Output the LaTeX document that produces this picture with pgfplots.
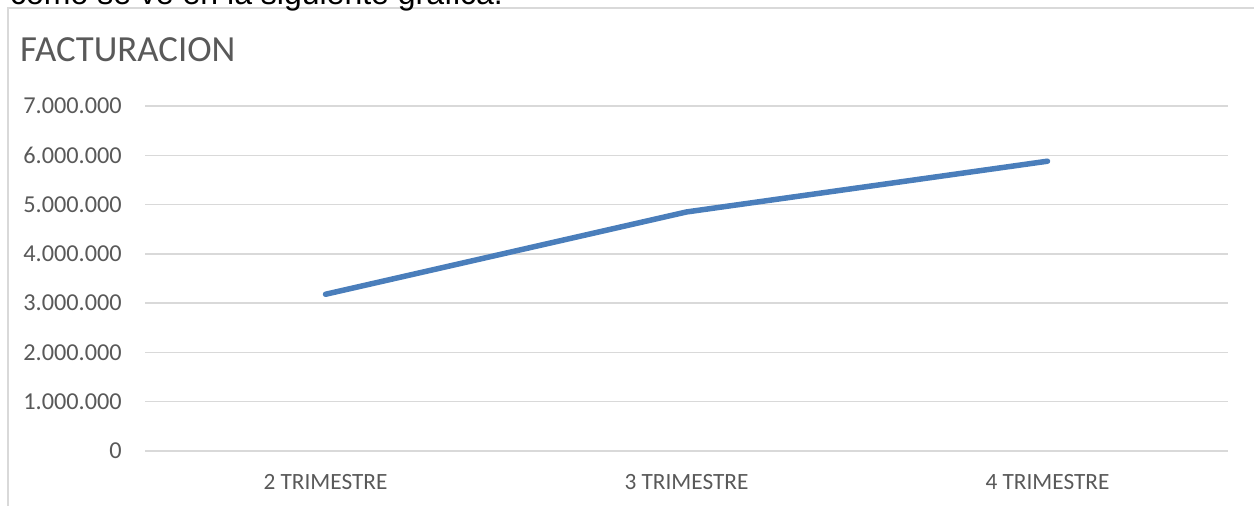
\documentclass[border=0pt]{standalone}
\usepackage{fontspec}
\setmainfont{Carlito}
\newfontfamily\arial{Liberation Sans}
\usepackage{pgfplots}
\pgfplotsset{compat=1.18}
\definecolor{txt}{HTML}{595959}
\definecolor{gridc}{HTML}{D9D9D9}
\definecolor{ser}{HTML}{4A7EBB}
\begin{document}
\begin{tikzpicture}[x=1pt,y=1pt]
\draw[gridc, line width=1.3pt] (8,-20) -- (8,498) -- (1290,498);
\node[anchor=base west, inner sep=0, font=\arial\fontsize{32}{38}\selectfont] at (10,501) {como se ve en la siguiente gráfica.};
\node[anchor=base west, inner sep=0, text=txt, font=\fontsize{36.8}{42}\selectfont] at (20,444) {FACTURACION};
\begin{axis}[
  at={(145pt,55pt)}, anchor=south west,
  scale only axis, width=1083pt, height=345pt,
  xmin=-0.5, xmax=2.5, ymin=0, ymax=7,
  xtick={0,1,2}, xticklabels={2 TRIMESTRE,3 TRIMESTRE,4 TRIMESTRE},
  ytick={0,1,2,3,4,5,6,7},
  yticklabels={0,1.000.000,2.000.000,3.000.000,4.000.000,5.000.000,6.000.000,7.000.000},
  axis line style={draw=none}, tick style={draw=none},
  ymajorgrids, major grid style={gridc, line width=1.4pt},
  ticklabel style={text=txt, inner sep=0pt},
  yticklabel style={anchor=east, xshift=-23pt, font=\fontsize{24.3}{29}\selectfont},
  xticklabel style={anchor=north, yshift=-23pt, font=\fontsize{23.3}{28}\selectfont},
  clip=false,
]
\addplot[ser, line width=5.5pt, line cap=round, line join=round] coordinates {(0,3.18) (1,4.85) (2,5.88)};
\end{axis}
\pgfresetboundingbox
\useasboundingbox (0,0) rectangle (1254,506);
\end{tikzpicture}
\end{document}
